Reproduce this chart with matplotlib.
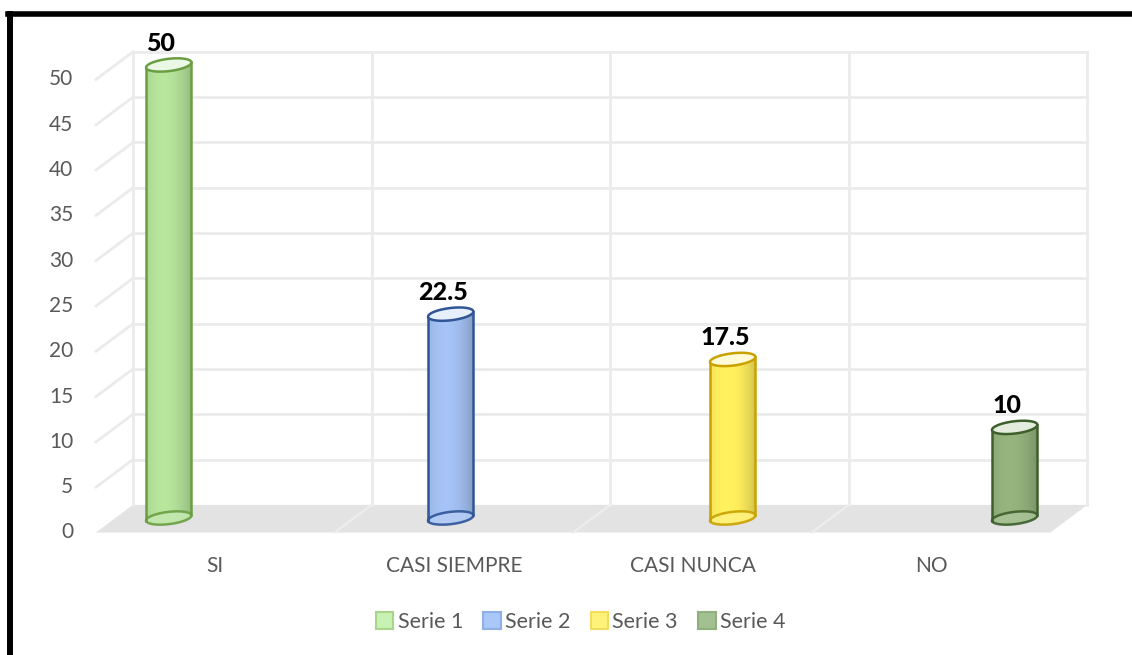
import numpy as np
import matplotlib.pyplot as plt
from matplotlib.patches import Polygon, Patch
from matplotlib.lines import Line2D
from matplotlib.colors import to_rgb

plt.rcParams['font.family'] = ['Lato', 'DejaVu Sans']

categories = ["SI", "CASI SIEMPRE", "CASI NUNCA", "NO"]
series = ["Serie 1", "Serie 2", "Serie 3", "Serie 4"]
values = [50, 22.5, 17.5, 10]
fill_colors = ["#b4e29a", "#a3c0f2", "#ffee5c", "#93b27c"]
edge_colors = ["#6b9e43", "#2f5597", "#c9a100", "#3d5f2b"]
legend_fill = ["#c8f2b4", "#a9c8f7", "#fff27a", "#a3c190"]
legend_edge = ["#a8d48c", "#8fb0e6", "#f2dc5c", "#8faf7c"]
yticks = np.arange(0, 55, 5)

# perspective offsets (category units / value units)
DX = 0.0775
DY_BACK = 1.45
DY_FRONT = 1.6
GAP = 1.5
SLOT = 1.0 / (len(series) + GAP)
HALF_W = 0.095   # cylinder half width
HALF_H = 0.68    # ellipse half height
TILT = 0.28
GRID = "#ebebeb"
TEXT = "#595959"

fig = plt.figure(figsize=(11.32, 6.55), dpi=100)
ax = fig.add_axes([0, 0, 1, 1])
ax.set_xlim(-0.4799, 4.2645)
ax.set_ylim(-15.12, 57.17)
ax.axis("off")

ncat = len(categories)
ymax = yticks[-1]

# floor
floor = Polygon([(-DX, -DY_FRONT), (ncat - DX, -DY_FRONT),
                 (ncat + DX, DY_BACK), (DX, DY_BACK)],
                closed=True, facecolor="#e3e3e3", edgecolor="none", zorder=1)
ax.add_patch(floor)
for k in range(1, ncat):
    ax.plot([k - DX, k + DX], [-DY_FRONT, DY_BACK], color="#eeeeee", lw=1.5, zorder=1.5)

# back wall + side wall grid
for v in yticks:
    if v > 0:
        ax.plot([DX, ncat + DX], [v + DY_BACK, v + DY_BACK], color=GRID, lw=2, zorder=1)
        ax.plot([-DX, DX], [v - DY_FRONT, v + DY_BACK], color=GRID, lw=2, zorder=1)
    ax.text(-DX - 0.095, v - DY_FRONT, str(v), ha="right", va="center",
            fontsize=15, color=TEXT)
for k in range(ncat + 1):
    ax.plot([k + DX, k + DX], [DY_BACK, ymax + DY_BACK], color=GRID, lw=2, zorder=1)

# category labels (front plane)
for k, c in enumerate(categories):
    ax.text(k + 0.5 - DX, -5.3, c, ha="center", va="center", fontsize=15, color=TEXT)

t = np.linspace(0, 2 * np.pi, 100)


def ellipse_pts(cx, cy, tt):
    return np.column_stack([cx + HALF_W * np.cos(tt),
                            cy + HALF_H * np.sin(tt) + TILT * np.cos(tt)])


def mix(c, other, f):
    c = np.array(to_rgb(c))
    o = np.array(to_rgb(other))
    return tuple(c * (1 - f) + o * f)


# cylinders
for i, (val, fc, ec) in enumerate(zip(values, fill_colors, edge_colors)):
    cx = i + (GAP / 2 + i + 0.5) * SLOT
    base = 0.0
    top = val
    lower = np.linspace(np.pi, 2 * np.pi, 50)
    body_pts = np.vstack([ellipse_pts(cx, base, lower),
                          ellipse_pts(cx, top, lower[::-1])])
    body = Polygon(body_pts, closed=True, facecolor="none", edgecolor="none", zorder=3)
    ax.add_patch(body)

    u = np.linspace(0, 1, 200)
    shade = 0.80 + 0.22 * (1 - ((u - 0.38) / 0.62) ** 2)
    rgb = np.array(to_rgb(fc))
    grad = np.clip(rgb[None, :] * shade[:, None] + 0.06 * (1 - shade[:, None]), 0, 1)
    img = ax.imshow(grad[None, :, :], extent=[cx - HALF_W, cx + HALF_W,
                                              base - HALF_H - 0.5, top + HALF_H + 0.5],
                    aspect="auto", zorder=3, interpolation="bilinear")
    img.set_clip_path(body)

    # bottom ellipse (seen through)
    bot = Polygon(ellipse_pts(cx, base, t), closed=True,
                  facecolor=mix(fc, "white", 0.2), edgecolor=ec, lw=1.8, zorder=3.5, alpha=0.9)
    ax.add_patch(bot)
    # sides
    left = ellipse_pts(cx, 0, np.array([np.pi]))[0]
    right = ellipse_pts(cx, 0, np.array([0.0]))[0]
    ax.plot([left[0], left[0]], [base + left[1], top + left[1]], color=ec, lw=1.8, zorder=4)
    ax.plot([right[0], right[0]], [base + right[1], top + right[1]], color=ec, lw=1.8, zorder=4)
    # top ellipse
    topel = Polygon(ellipse_pts(cx, top, t), closed=True,
                    facecolor=mix(fc, "white", 0.75), edgecolor=ec, lw=1.8, zorder=5)
    ax.add_patch(topel)

    lbl = f"{val:g}"
    ax.text(cx - 0.033, top + 2.4, lbl, ha="center", va="center",
            fontsize=18, fontweight=900, color="black", zorder=6)

# legend
handles = [Patch(facecolor=f, edgecolor=e, lw=1.5, label=s)
           for f, e, s in zip(legend_fill, legend_edge, series)]
fig.legend(handles=handles, loc="center", bbox_to_anchor=(0.513, 1 - 622 / 655),
           ncol=4, frameon=False, fontsize=15.5, labelcolor=TEXT,
           handlelength=0.8, handleheight=0.8, handletextpad=0.2, columnspacing=0.95)

# outer frame
W, H = 1132, 655
fig.add_artist(Line2D([10 / W, 10 / W], [0, 1 - 14 / H], transform=fig.transFigure,
                      color="black", lw=4.3))
fig.add_artist(Line2D([8 / W, 1.0], [1 - 14 / H, 1 - 14 / H], transform=fig.transFigure,
                      color="black", lw=4.0))

fig.savefig("out.png", dpi=100)
